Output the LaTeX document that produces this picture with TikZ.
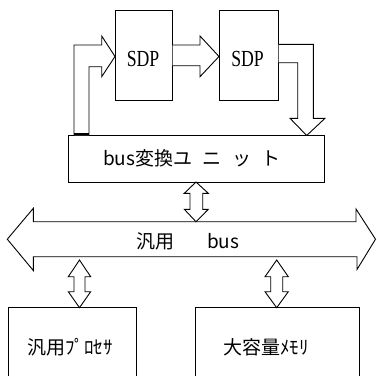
\documentclass[tikz,border=0pt]{standalone}
\usepackage{fontspec}
\newfontfamily\jp{Noto Sans CJK JP}
\newfontfamily\sdpfont[FakeStretch=0.77]{Liberation Serif}
\begin{document}
\begin{tikzpicture}[x=1pt,y=-1pt,
  line width=0.9pt, line join=miter,
  boxshape/.style={draw, line width=0.9pt, inner sep=0pt, outer sep=0pt},
  sdplabel/.style={font=\sdpfont\fontsize{23}{25}\selectfont, inner sep=0pt},
  jplabel/.style={font=\jp\fontsize{19}{21}\selectfont, inner sep=0pt},
  blockarrow/.style={draw, fill=white, line width=0.9pt}]
\useasboundingbox (0,0) rectangle (377,376);

% boxes
\node[boxshape, minimum width=57.7pt, minimum height=89.3pt] (sdp1) at (143.85,55.35) {};
\node[boxshape, minimum width=59.7pt, minimum height=89.3pt] (sdp2) at (248.85,55.35) {};
\node[boxshape, minimum width=256pt, minimum height=47pt] (unit) at (196,158.5) {};
\node[sdplabel] (sdp1t) at (143,59) {SDP};
\node[sdplabel] (sdp2t) at (247.5,59) {SDP};
\node[jplabel] (unitt) at (192,158.5) {bus変換ユ\hspace{0.55em}ニ\hspace{0.55em}ッ\hspace{0.55em}ト};

% bottom boxes (open at the bottom edge)
\coordinate (procTL) at (8.3,307.7);
\coordinate (procTR) at (136.7,307.7);
\coordinate (memTL) at (195,307.7);
\coordinate (memTR) at (359,307.7);
\draw (procTL |- 0,376) -- (procTL) -- (procTR) -- (procTR |- 0,376);
\draw (memTL |- 0,376) -- (memTL) -- (memTR) -- (memTR |- 0,376);
\node[jplabel] (proc) at (70,347) {汎用ﾌﾟﾛｾｻ};
\node[jplabel] (mem) at (266,347) {大容量ﾒﾓﾘ};

% bus
\draw[blockarrow] (7.3,239.2) -- (33.3,208.3) -- (33.3,221.7) -- (356,221.7) -- (356,209)
  -- (375.5,239.2) -- (357,269.5) -- (357,256.7) -- (33.3,256.7) -- (33.3,270.5) -- cycle;
\node[jplabel] (bust) at (188,241) {汎用\hspace{1.7em}bus};

% unit -> SDP1 (L-shaped block arrow)
\draw[blockarrow] (74,135) -- (74,45) -- (101.7,45) -- (101.7,36) -- (sdp1.west |- 0,56.5)
  -- (101.7,76.7) -- (101.7,66.7) -- (89,66.7) -- (89,135);
\draw[line width=1.8pt] (74,134.2) -- (89,134.2);

% SDP1 -> SDP2
\draw[blockarrow] (sdp1.east |- 0,45) -- (200,45) -- (200,36) -- (sdp2.west |- 0,56.5)
  -- (200,76.7) -- (200,65.7) -- (sdp1.east |- 0,65.7);

% SDP2 -> unit
\draw[blockarrow] (sdp2.east |- 0,44.3) -- (313.3,44.3) -- (313.3,118.3) -- (325,118.3)
  -- (306.7,135.5) -- (290,118.3) -- (297.7,118.3) -- (297.7,62.7) -- (sdp2.east |- 0,62.7);

% unit <-> bus
\draw[blockarrow] (196,182) -- (208.3,193.3) -- (202.7,193.3) -- (202.7,209.3) -- (208.3,209.3)
  -- (196,221.7) -- (184.3,209.3) -- (190,209.3) -- (190,193.3) -- (184.3,193.3) -- cycle;

% bus <-> processor
\draw[blockarrow] (79.5,260) -- (90.7,276.7) -- (85,276.7) -- (85,291.7) -- (90.7,291.7)
  -- (79.5,307.7) -- (68.3,291.7) -- (74,291.7) -- (74,276.7) -- (68.3,276.7) -- cycle;

% bus <-> memory
\draw[blockarrow] (276.7,260) -- (288.3,276.7) -- (282.7,276.7) -- (282.7,291.7) -- (288.3,291.7)
  -- (276.7,307.7) -- (265,291.7) -- (270.7,291.7) -- (270.7,276.7) -- (265,276.7) -- cycle;
\end{tikzpicture}
\end{document}
